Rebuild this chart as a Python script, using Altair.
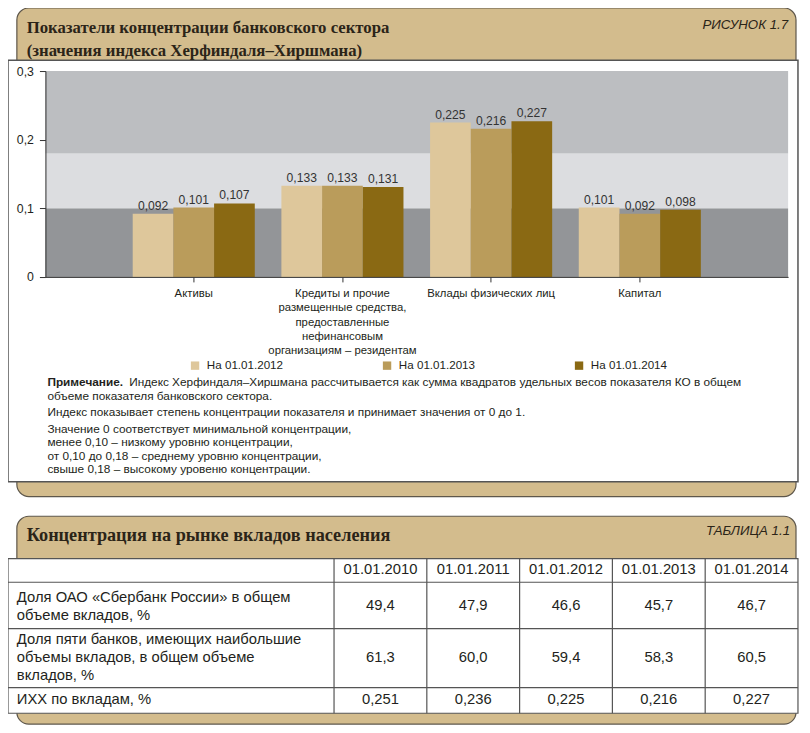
import altair as alt
import pandas as pd

# ---------------- data ----------------
categories = [
    "Активы",
    "Кредиты и прочие\nразмещенные средства,\nпредоставленные\nнефинансовым\nорганизациям – резидентам",
    "Вклады физических лиц",
    "Капитал",
]
periods = ["На 01.01.2012", "На 01.01.2013", "На 01.01.2014"]
hhi_2012 = [0.092, 0.133, 0.225, 0.101]
hhi_2013 = [0.101, 0.133, 0.216, 0.092]
hhi_2014 = [0.107, 0.131, 0.227, 0.098]

zone_low = [0.0, 0.10]
zone_mid = [0.10, 0.18]
zone_high = [0.18, 0.30]
y_ticks = [0, 0.1, 0.2, 0.3]

title_lines = ["Показатели концентрации банковского сектора",
               "(значения индекса Херфиндаля–Хиршмана)"]
figure_label = "РИСУНОК 1.7"
note_head = "Примечание."
note_lines = [
    "Индекс Херфиндаля–Хиршмана рассчитывается как сумма квадратов удельных весов показателя КО в общем",
    "объеме показателя банковского сектора.",
    "Индекс показывает степень концентрации показателя и принимает значения от 0 до 1.",
    "Значение 0 соответствует минимальной концентрации,",
    "менее 0,10 – низкому уровню концентрации,",
    "от 0,10 до 0,18 – среднему уровню концентрации,",
    "свыше 0,18 – высокому уровеню концентрации.",
]

table_title = "Концентрация на рынке вкладов населения"
table_label = "ТАБЛИЦА 1.1"
table_dates = ["01.01.2010", "01.01.2011", "01.01.2012", "01.01.2013", "01.01.2014"]
row_labels = [
    "Доля ОАО «Сбербанк России» в общем\nобъеме вкладов, %",
    "Доля пяти банков, имеющих наибольшие\nобъемы вкладов, в общем объеме\nвкладов, %",
    "ИХХ по вкладам, %",
]
sber_share = [49.4, 47.9, 46.6, 45.7, 46.7]
top5_share = [61.3, 60.0, 59.4, 58.3, 60.5]
hhi_deposits = [0.251, 0.236, 0.225, 0.216, 0.227]

# ---------------- layout helpers ----------------
S = 0.985
CANVAS_W, CANVAS_H = 794, 717


def cx(r):
    return (r - 3) * S


def cy(r):
    return (r - 2) * S


PL, PT = cx(41), cy(66)
W, H = cx(795) - PL, cy(275) - PT


def X(r):
    return cx(r) - PL


def Y(r):
    return cy(r) - PT


INK = "#231f20"
TAN = "#d3bc8d"
EDGE = "#5e574b"
GRID = "#555555"
SANS = "Liberation Sans"
SERIF = "Liberation Serif"
bar_colors = ["#dec79b", "#ba9c5b", "#8a6913"]

one = pd.DataFrame({"k": [0]})


def comma(v, nd):
    return f"{v:.{nd}f}".replace(".", ",")


def box(x1, y1, x2, y2, fill, stroke=None, sw=0, top=0, bottom=0):
    kw = dict(fill=fill, strokeWidth=sw)
    if stroke:
        kw["stroke"] = stroke
    if top:
        kw.update(cornerRadiusTopLeft=top, cornerRadiusTopRight=top)
    if bottom:
        kw.update(cornerRadiusBottomLeft=bottom, cornerRadiusBottomRight=bottom)
    return alt.Chart(one).mark_rect(**kw).encode(
        x=alt.value(X(x1)), x2=alt.value(X(x2)), y=alt.value(Y(y1)), y2=alt.value(Y(y2)))


def hline(x1, x2, y, color=GRID, sw=1.2):
    return alt.Chart(one).mark_rule(color=color, strokeWidth=sw).encode(
        x=alt.value(X(x1)), x2=alt.value(X(x2)), y=alt.value(Y(y)))


def txt(s, x, y, size, weight="normal", font=SANS, align="left", baseline="middle",
        color=INK, style="normal", line_height=None):
    kw = dict(align=align, baseline=baseline, font=font, fontSize=size * S,
              fontWeight=weight, color=color, fontStyle=style)
    if line_height:
        kw.update(lineBreak="\n", lineHeight=line_height * S)
    return alt.Chart(pd.DataFrame({"t": [s]})).mark_text(**kw).encode(
        text="t:N", x=alt.value(X(x)), y=alt.value(Y(y)))


# ---------------- bar chart ----------------
rows = []
for per, vals in zip(periods, [hhi_2012, hhi_2013, hhi_2014]):
    for cat, v in zip(categories, vals):
        rows.append({"category": cat, "period": per, "value": v, "label": comma(v, 3)})
bars_df = pd.DataFrame(rows)

y_axis = alt.Axis(values=y_ticks, grid=False, title=None, zindex=2,
                  labelExpr="datum.value == 0 ? '0' : replace(format(datum.value, '.1f'), '.', ',')",
                  labelFont=SANS, labelFontSize=12.5 * S, labelColor=INK, labelPadding=6,
                  tickSize=6, tickColor="#333333", domainColor="#333333")
y_scale = alt.Scale(domain=[0, 0.3], nice=False, zero=True)

x_scale = alt.Scale(paddingInner=0.179, paddingOuter=0.587)
xoff_scale = alt.Scale(paddingInner=0, paddingOuter=0)


def zone(rng, color):
    df = pd.DataFrame({"lo": [rng[0]], "hi": [rng[1]]})
    return alt.Chart(df).mark_rect(fill=color).encode(
        x=alt.value(0), x2=alt.value(W),
        y=alt.Y("lo:Q", scale=y_scale, axis=y_axis), y2="hi:Q")


bars = alt.Chart(bars_df).mark_bar().encode(
    x=alt.X("category:N", sort=categories, scale=x_scale, title=None,
            axis=alt.Axis(labelExpr="split(datum.label, '\\n')", labelAngle=0, zindex=2,
                          labelFont=SANS, labelFontSize=11.5 * S, labelColor=INK,
                          labelLineHeight=14.3 * S, labelPadding=6, labelOverlap=False,
                          labelLimit=250, tickSize=5, tickColor="#333333",
                          domainColor="#333333")),
    xOffset=alt.XOffset("period:N", sort=periods, scale=xoff_scale),
    y=alt.Y("value:Q", scale=y_scale, axis=y_axis),
    color=alt.Color("period:N", sort=periods,
                    scale=alt.Scale(domain=periods, range=bar_colors),
                    legend=alt.Legend(orient="none", legendX=X(187), legendY=Y(365) - 6,
                                      direction="horizontal", columns=3, title=None,
                                      symbolType="square", symbolSize=70, symbolStrokeWidth=0,
                                      labelFont=SANS, labelFontSize=11.8 * S, labelColor=INK,
                                      labelOffset=6, columnPadding=98, padding=0)),
)

bar_labels = alt.Chart(bars_df).mark_text(
    baseline="alphabetic", dy=-4, font=SANS, fontSize=12.3 * S, color="#333333").encode(
    x=alt.X("category:N", sort=categories, scale=x_scale, axis=None),
    xOffset=alt.XOffset("period:N", sort=periods, scale=xoff_scale),
    y=alt.Y("value:Q", scale=y_scale, axis=y_axis),
    text="label:N",
)

# ---------------- table ----------------
tbl_scale = alt.Scale(range=[X(334), X(805)], paddingInner=0, paddingOuter=0)
tx = alt.X("date:N", sort=table_dates, scale=tbl_scale, axis=None)


def table_row(texts, yc):
    df = pd.DataFrame({"date": table_dates, "t": texts})
    return alt.Chart(df).mark_text(align="center", baseline="middle", font=SANS,
                                   fontSize=15 * S, color=INK).encode(
        x=tx, y=alt.value(Y(yc)), text="t:N")


dividers = alt.Chart(pd.DataFrame({"date": table_dates})).mark_rule(
    color=GRID, strokeWidth=1.2).encode(
    x=alt.X("date:N", sort=table_dates, scale=tbl_scale, axis=None, bandPosition=0),
    y=alt.value(Y(561)), y2=alt.value(Y(718)))

layers = [
    # figure frame
    box(12, 2, 803, 57, TAN, EDGE, 1.2, top=12),
    box(12, 470, 803, 498, TAN, EDGE, 1.2, bottom=12),
    box(3, 55, 805, 483, "white", GRID, 1.5),
    zone(zone_low, "#939598"),
    zone(zone_mid, "#dcdde0"),
    zone(zone_high, "#bcbec1"),
    bars,
    bar_labels,
    txt("\n".join(title_lines), 22, 27, 17, weight="bold", font=SERIF, baseline="alphabetic",
        color="#2b2418", line_height=24),
    txt(figure_label, 795, 19, 13.5, font=SANS, align="right", style="italic", color="#2b2418"),
    txt(note_head, 43, 382, 12, weight="bold"),
    txt(note_lines[0], 126, 382, 12),
    txt(note_lines[1], 43, 396, 12),
    txt(note_lines[2], 43, 412, 12),
    txt("\n".join(note_lines[3:]), 43, 433, 12, baseline="alphabetic", line_height=13.8),
    # table frame
    box(12, 518, 803, 561, TAN, EDGE, 1.2, top=12),
    box(12, 705, 803, 729, TAN, EDGE, 1.2, bottom=12),
    box(3, 561, 805, 718, "white", GRID, 1.2),
    hline(3, 805, 585),
    hline(3, 805, 632),
    hline(3, 805, 692),
    dividers,
    txt(table_title, 22, 543, 18.5, weight="bold", font=SERIF, baseline="alphabetic",
        color="#2b2418"),
    txt(table_label, 797, 533, 13.5, font=SANS, align="right", style="italic", color="#2b2418"),
    table_row(table_dates, 573),
    table_row([comma(v, 1) for v in sber_share], 609),
    table_row([comma(v, 1) for v in top5_share], 662),
    table_row([comma(v, 3) for v in hhi_deposits], 705),
    txt(row_labels[0], 12, 605, 15, baseline="alphabetic", line_height=18),
    txt(row_labels[1], 12, 648, 15, baseline="alphabetic", line_height=18),
    txt(row_labels[2], 12, 705, 15),
]

chart = alt.layer(*layers).resolve_scale(x="independent").properties(
    width=W, height=H,
    padding={"left": PL, "top": PT, "right": CANVAS_W - PL - W, "bottom": CANVAS_H - PT - H},
    autosize=alt.AutoSizeParams(type="none"),
).configure_view(stroke=None)

chart.save("out.html", embed_options={"renderer": "svg", "actions": False})
